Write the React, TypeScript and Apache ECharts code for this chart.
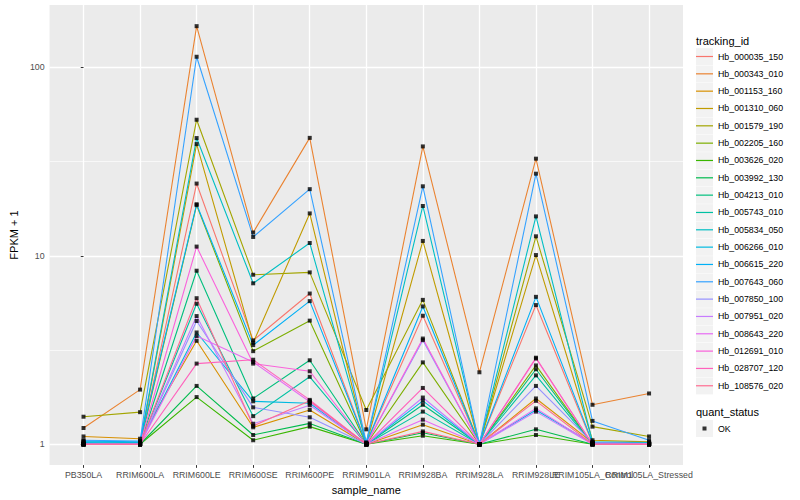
import React, { useEffect, useRef } from "react";
import * as echarts from "echarts";

const categories = [
  "PB350LA",
  "RRIM600LA",
  "RRIM600LE",
  "RRIM600SE",
  "RRIM600PE",
  "RRIM901LA",
  "RRIM928BA",
  "RRIM928LA",
  "RRIM928LE",
  "RRIM105LA_Control",
  "RRIM105LA_Stressed",
];

const seriesNames = [
  "Hb_000035_150",
  "Hb_000343_010",
  "Hb_001153_160",
  "Hb_001310_060",
  "Hb_001579_190",
  "Hb_002205_160",
  "Hb_003626_020",
  "Hb_003992_130",
  "Hb_004213_010",
  "Hb_005743_010",
  "Hb_005834_050",
  "Hb_006266_010",
  "Hb_006615_220",
  "Hb_007643_060",
  "Hb_007850_100",
  "Hb_007951_020",
  "Hb_008643_220",
  "Hb_012691_010",
  "Hb_028707_120",
  "Hb_108576_020",
];

const seriesColors = [
  "#F8766D", "#EA8331", "#D89000", "#C09B00", "#A3A500",
  "#7CAE00", "#39B600", "#00BB4E", "#00BF7D", "#00C1A3",
  "#00BFC4", "#00BAE0", "#00B0F6", "#35A2FF", "#9590FF",
  "#C77CFF", "#E76BF3", "#FA62DB", "#FF62BC", "#FF6C91",
];

// FPKM + 1 per sample, in the order of `categories`
const hb000035 = [1.0, 1.0, 24.2, 3.56, 6.31, 1.01, 4.81, 1.0, 5.48, 1.01, 1.0];
const hb000343 = [1.22, 1.95, 165.7, 13.3, 42.3, 1.2, 38.1, 2.41, 32.8, 1.62, 1.86];
const hb001153 = [1.1, 1.07, 3.54, 1.23, 1.52, 1.0, 1.27, 1.0, 1.75, 1.02, 1.01];
const hb001310 = [1.0, 1.01, 39.2, 3.46, 16.8, 1.0, 12.0, 1.0, 10.1, 1.05, 1.03];
const hb001579 = [1.4, 1.48, 52.8, 7.94, 8.17, 1.52, 5.84, 1.0, 12.7, 1.24, 1.1];
const hb002205 = [1.0, 1.0, 18.6, 3.12, 4.53, 1.0, 2.72, 1.0, 2.62, 1.0, 1.0];
const hb003626 = [1.0, 1.0, 1.78, 1.05, 1.24, 1.0, 1.11, 1.0, 1.12, 1.0, 1.0];
const hb003992 = [1.0, 1.0, 2.04, 1.12, 1.29, 1.0, 1.15, 1.0, 1.2, 1.0, 1.0];
const hb004213 = [1.0, 1.0, 8.34, 1.75, 2.79, 1.0, 1.62, 1.0, 2.5, 1.0, 1.0];
const hb005743 = [1.01, 1.0, 5.57, 1.41, 2.28, 1.0, 1.49, 1.0, 2.32, 1.0, 1.0];
const hb005834 = [1.03, 1.02, 42.2, 7.15, 11.7, 1.02, 18.4, 1.0, 16.2, 1.03, 1.02];
const hb006266 = [1.02, 1.01, 3.92, 1.69, 1.65, 1.0, 1.7, 1.0, 1.52, 1.01, 1.0];
const hb006615 = [1.04, 1.03, 18.8, 3.36, 5.75, 1.01, 5.39, 1.0, 6.06, 1.02, 1.01];
const hb007643 = [1.05, 1.04, 114, 12.6, 22.6, 1.02, 23.4, 1.0, 27.3, 1.33, 1.05];
const hb007850 = [1.0, 1.0, 4.51, 1.57, 1.39, 1.0, 3.57, 1.0, 2.04, 1.02, 1.01];
const hb007951 = [1.0, 1.0, 4.79, 1.285, 1.61, 1.0, 1.77, 1.0, 1.49, 1.0, 1.0];
const hb008643 = [1.0, 1.0, 3.75, 2.73, 1.68, 1.0, 1.35, 1.0, 1.55, 1.0, 1.0];
const hb012691 = [1.0, 1.0, 11.2, 2.68, 2.44, 1.0, 3.64, 1.0, 2.85, 1.0, 1.0];
const hb028707 = [1.0, 1.0, 2.68, 2.81, 1.72, 1.0, 1.99, 1.0, 2.88, 1.0, 1.0];
const hb108576 = [1.0, 1.0, 5.96, 1.25, 1.7, 1.0, 1.17, 1.0, 1.7, 1.0, 1.0];

const seriesValues = [
  hb000035, hb000343, hb001153, hb001310, hb001579,
  hb002205, hb003626, hb003992, hb004213, hb005743,
  hb005834, hb006266, hb006615, hb007643, hb007850,
  hb007951, hb008643, hb012691, hb028707, hb108576,
];

const yTickValues = [1, 10, 100];
const yMinorValues = [3.1623, 31.623];
const statusLabel = "OK";

const FONT = "'Liberation Sans', Arial, Helvetica, sans-serif";

export default function App() {
  const ref = useRef<HTMLDivElement>(null);

  useEffect(() => {
    if (!ref.current) return;
    const chart = echarts.init(ref.current, undefined, { renderer: "svg" });
    const catIdx = categories.map((_, i) => i);
    const evenIdx = catIdx.filter((i) => i % 2 === 0);
    const oddIdx = catIdx.filter((i) => i % 2 === 1);

    const lineSeries = seriesNames.map((name, i) => ({
      name,
      type: "line",
      xAxisIndex: 0,
      yAxisIndex: 0,
      data: seriesValues[i].map((v, j) => [j, v]),
      symbol: "none",
      showSymbol: false,
      lineStyle: { color: seriesColors[i], width: 1.1 },
      itemStyle: { color: seriesColors[i] },
      z: 2,
      silent: true,
    }));

    const points: number[][] = [];
    seriesValues.forEach((arr) => arr.forEach((v, j) => points.push([j, v])));

    const keyStep = 17.33;
    const keyTop = 48;
    const graphics: any[] = seriesNames.map((_, i) => ({
      type: "rect",
      x: 696,
      y: keyTop + i * keyStep + 0.2,
      shape: { width: 17, height: 16.9 },
      style: { fill: "#F2F2F2" },
      z: 0,
    }));
    graphics.push({
      type: "rect",
      x: 696,
      y: 420,
      shape: { width: 17, height: 17 },
      style: { fill: "#F2F2F2" },
      z: 0,
    });
    graphics.push({
      type: "text",
      x: 696,
      y: 40.7,
      style: { text: "tracking_id", fontSize: 11, fontFamily: FONT, fill: "#000", verticalAlign: "middle" },
      z: 1,
    });
    graphics.push({
      type: "text",
      x: 696,
      y: 412.3,
      style: { text: "quant_status", fontSize: 11, fontFamily: FONT, fill: "#000", verticalAlign: "middle" },
      z: 1,
    });

    const makeX = (vals: number[], withName: boolean): any => ({
      type: "value",
      position: "bottom",
      offset: 0,
      min: -0.6,
      max: 10.6,
      axisLine: { show: false },
      axisTick: {
        show: true,
        length: 2.75,
        lineStyle: { color: "#333333", width: 1 },
        customValues: vals,
      },
      axisLabel: {
        customValues: vals,
        formatter: (v: number) => categories[Math.round(v)] ?? "",
        color: "#4D4D4D",
        fontSize: 8.8,
        margin: 5,
        fontFamily: FONT,
        showMinLabel: true,
        showMaxLabel: true,
      },
      splitLine: { show: true, lineStyle: { color: "#FFFFFF", width: 1.3 } },
      ...(withName
        ? {
            name: "sample_name",
            nameLocation: "middle",
            nameGap: 15,
            nameTextStyle: { color: "#000", fontSize: 11, fontFamily: FONT, verticalAlign: "top" },
          }
        : {}),
    });

    const option: any = {
      animation: false,
      backgroundColor: "#FFFFFF",
      textStyle: { fontFamily: FONT },
      grid: {
        left: 40,
        top: 5,
        width: 643,
        height: 464,
        show: true,
        backgroundColor: "#EBEBEB",
        borderWidth: 0,
      },
      xAxis: [makeX(evenIdx, true), makeX(oddIdx, false)],
      yAxis: [
        {
          type: "log",
          logBase: 10,
          min: 0.775,
          max: 214.6,
          position: "left",
          axisLine: { show: false },
          axisTick: {
            show: true,
            length: 2.75,
            lineStyle: { color: "#333333", width: 1 },
            customValues: yTickValues,
          },
          axisLabel: {
            customValues: yTickValues,
            formatter: (v: number) => String(Math.round(v)),
            color: "#4D4D4D",
            fontSize: 8.8,
            margin: 5,
            fontFamily: FONT,
            showMinLabel: true,
            showMaxLabel: true,
          },
          splitLine: { show: true, lineStyle: { color: "#FFFFFF", width: 1.3 } },
          name: "FPKM + 1",
          nameLocation: "middle",
          nameGap: 22,
          nameRotate: 90,
          nameTextStyle: { color: "#000", fontSize: 11, fontFamily: FONT },
        },
        {
          type: "log",
          logBase: 10,
          min: 0.775,
          max: 214.6,
          position: "right",
          axisLine: { show: false },
          axisTick: { show: false, customValues: yMinorValues },
          axisLabel: { show: false, customValues: yMinorValues },
          splitLine: { show: true, lineStyle: { color: "#FFFFFF", width: 0.65 } },
        },
      ],
      legend: [
        {
          orient: "vertical",
          left: 696,
          top: keyTop,
          padding: 0,
          itemWidth: 17,
          itemHeight: 17,
          itemGap: keyStep - 17,
          icon: "path://M0,0M0,7.9H17V9.1H0ZM17,17",
          itemStyle: { borderWidth: 0 },
          selectedMode: false,
          data: seriesNames,
          textStyle: { fontSize: 8.8, color: "#000", fontFamily: FONT, lineHeight: 17 },
        },
        {
          orient: "vertical",
          left: 696,
          top: 420,
          padding: 0,
          itemWidth: 17,
          itemHeight: 17,
          icon: "path://M0,0M6.5,6.5H10.5V10.5H6.5ZM17,17",
          itemStyle: { borderWidth: 0 },
          selectedMode: false,
          data: [statusLabel],
          textStyle: { fontSize: 8.8, color: "#000", fontFamily: FONT, lineHeight: 17 },
        },
      ],
      graphic: { elements: graphics },
      series: [
        ...lineSeries,
        {
          name: statusLabel,
          type: "scatter",
          xAxisIndex: 0,
          yAxisIndex: 0,
          data: points,
          symbol: "rect",
          symbolSize: 4,
          itemStyle: { color: "#000000" },
          z: 3,
          silent: true,
        },
      ],
    };

    chart.setOption(option);
    return () => chart.dispose();
  }, []);

  return (
    <div
      ref={ref}
      style={{ position: "absolute", left: 0, top: 0, width: 800, height: 500 }}
    />
  );
}
